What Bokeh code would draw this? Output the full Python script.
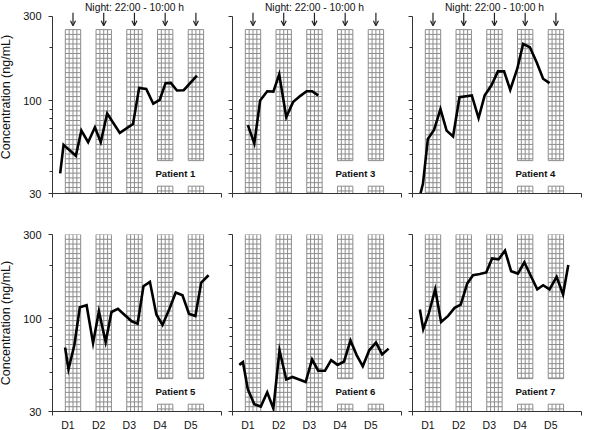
from bokeh.plotting import figure
from bokeh.models import Range1d, FixedTicker, Arrow, OpenHead
from bokeh.layouts import row, column
from bokeh.embed import file_html
from bokeh.resources import INLINE
from bokeh.core.properties import value

# ---------------- data ----------------
DAY_LABELS = ["D1", "D2", "D3", "D4", "D5"]
DAY_LABEL_POS = [0.5, 1.5, 2.5, 3.5, 4.5]          # days since 12:00 on D1
AXIS_DAYS = [0, 5.5]
NIGHT_START = [0.417, 1.417, 2.417, 3.417, 4.417]   # 22:00
NIGHT_END = [0.917, 1.917, 2.917, 3.917, 4.917]     # 10:00
Y_TICKS = [30, 100, 300]
Y_MINOR = [40, 50, 60, 70, 80, 90, 200]
Y_LABEL = "Concentration (ng/mL)"
NIGHT_TEXT = "Night: 22:00 - 10:00 h"

P1_T = [0.25, 0.36, 0.76, 0.94, 1.16, 1.38, 1.57, 1.78, 2.19, 2.62, 2.82, 3.05, 3.28, 3.49, 3.68, 3.85, 4.05, 4.27, 4.70]
P1_C = [39, 56.5, 49, 68, 58.5, 71, 58.5, 85, 66, 74, 118.5, 117, 96.5, 101.5, 126, 126.5, 114.5, 115, 139]

P3_T = [0.50, 0.71, 0.90, 1.13, 1.33, 1.52, 1.75, 1.97, 2.20, 2.41, 2.59, 2.79]
P3_C = [73, 57.5, 100.5, 113.5, 113, 141.5, 81, 98.5, 106.5, 113.5, 113.5, 107.5]

P4_T = [0.26, 0.34, 0.50, 0.70, 0.91, 1.11, 1.32, 1.53, 1.93, 2.15, 2.35, 2.57, 2.78, 2.98, 3.18, 3.41, 3.60, 3.82, 4.04, 4.25, 4.46]
P4_C = [30, 34, 61, 68.5, 90, 68, 63, 105, 107.5, 80, 107.5, 122.5, 147, 147, 115.5, 152, 210, 201, 165.5, 133.5, 126]

P5_T = [0.41, 0.52, 0.71, 0.89, 1.11, 1.32, 1.51, 1.73, 1.92, 2.13, 2.33, 2.58, 2.77, 2.96, 3.17, 3.38, 3.58, 3.80, 4.01, 4.23, 4.44, 4.65, 4.84, 5.08]
P5_C = [69, 52, 71, 116.5, 119.5, 73, 110.5, 74, 109.5, 114, 106, 97, 94, 153, 162, 106, 92.5, 113.5, 141, 136, 107, 104, 160.5, 176.5]

P6_T = [0.22, 0.34, 0.50, 0.71, 0.92, 1.13, 1.33, 1.53, 1.75, 1.95, 2.17, 2.38, 2.59, 2.79, 3.01, 3.21, 3.42, 3.63, 3.84, 4.04, 4.24, 4.45, 4.67, 4.87, 5.08]
P6_C = [55, 57, 40, 33, 32, 38.5, 31.2, 66.5, 45.5, 47, 45.5, 44, 59, 51, 51, 58.5, 55, 57.5, 75.5, 62.5, 54, 66.5, 73.5, 63, 68]

P7_T = [0.24, 0.35, 0.52, 0.74, 0.93, 1.16, 1.37, 1.57, 1.78, 1.97, 2.19, 2.40, 2.59, 2.80, 3.01, 3.21, 3.43, 3.64, 3.84, 4.06, 4.25, 4.46, 4.69, 4.90, 5.07]
P7_C = [113, 87.5, 106, 147, 96, 104, 115.5, 120.5, 158.5, 176.5, 179.5, 183, 219.5, 217, 243.5, 186, 180.5, 209, 176.5, 147, 155, 147, 173, 137.5, 201.5]

# ---------------- styling ----------------
FONT = "Liberation Sans"
AX = "#333333"
GRID = "#8c8c8c"
Y_MIN, Y_MAX = 30, 300
Y_TOP_ROW1 = 369.4       # head-room for arrows / night caption
BAR_TOP_ROW1 = 253
GAP = (33, 46)           # gap left in nights 4-5 for the patient label
ROW_STEP = 37            # grid rows per decade


def bar_pieces(k, top):
    if k >= 3:
        return [(Y_MIN, GAP[0]), (GAP[1], top)]
    return [(Y_MIN, top)]


def make_panel(t, c, name, top_row, first_col, last_col):
    y_top = Y_TOP_ROW1 if top_row else Y_MAX
    p = figure(x_range=Range1d(AXIS_DAYS[0], AXIS_DAYS[1]), y_range=Range1d(Y_MIN, y_top),
               y_axis_type="log", frame_width=169, frame_height=193 if top_row else 177,
               output_backend="svg", toolbar_location=None,
               min_border_left=53 if first_col else 6,
               min_border_right=18 if last_col else 5,
               min_border_top=0 if top_row else 19,
               min_border_bottom=22 if top_row else 19,
               outline_line_color=None)
    p.grid.visible = False

    # night bars with grid hatching
    bar_top = BAR_TOP_ROW1 if top_row else Y_MAX
    L, R, B, T = [], [], [], []
    xs, ys = [], []
    for k, (s, e) in enumerate(zip(NIGHT_START, NIGHT_END)):
        for (b, tp) in bar_pieces(k, bar_top):
            L.append(s); R.append(e); B.append(b); T.append(tp)
            for j in (1, 2, 3):
                xv = s + (e - s) * j / 4
                xs.append([xv, xv]); ys.append([b, tp])
            i = 1
            while True:
                yv = tp * 10 ** (-i / ROW_STEP)
                if yv <= b * 1.005:
                    break
                xs.append([s, e]); ys.append([yv, yv])
                i += 1
    p.quad(left=L, right=R, bottom=B, top=T, fill_color="white", line_color=None)
    p.multi_line(xs, ys, line_color=GRID, line_width=1)
    p.quad(left=L, right=R, bottom=B, top=T, fill_color=None, line_color=GRID, line_width=1)

    # data
    p.line(t, c, line_color="black", line_width=2.6, line_join="miter")

    p.text(x=[4.0], y=[38.9], text=[name], text_font=value(FONT), text_font_style="bold",
           text_font_size="9.6px", text_align="center", text_baseline="middle", text_color="#111111")

    if top_row:
        centers = [(s + e) / 2 for s, e in zip(NIGHT_START, NIGHT_END)]
        for cx in centers:
            p.add_layout(Arrow(end=OpenHead(size=5, line_width=1.2, line_color="#222222"),
                               x_start=cx, y_start=315, x_end=cx, y_end=266,
                               line_width=1.2, line_color="#222222"))
        p.text(x=[centers[2]], y=[339], text=[NIGHT_TEXT], text_font=value(FONT),
               text_font_size="10.3px", text_align="center", text_baseline="middle",
               text_color="#111111")

    # y axis
    ya = p.yaxis[0]
    ya.ticker = FixedTicker(ticks=Y_TICKS, minor_ticks=Y_MINOR)
    ya.bounds = (Y_MIN, Y_MAX)
    ya.axis_line_color = AX
    ya.major_tick_line_color = AX
    ya.minor_tick_line_color = AX
    ya.major_tick_in = 0
    ya.major_tick_out = 4
    ya.minor_tick_in = 0
    ya.minor_tick_out = 3
    if first_col:
        ya.major_label_overrides = {v: str(v) for v in Y_TICKS}
        ya.major_label_text_font = FONT
        ya.major_label_text_font_size = "11px"
        ya.major_label_text_color = "#111111"
        ya.major_label_standoff = 7
        ya.axis_label = Y_LABEL
        ya.axis_label_text_font = FONT
        ya.axis_label_text_font_size = "12.5px"
        ya.axis_label_text_font_style = "normal"
        ya.axis_label_text_color = "#111111"
        ya.axis_label_standoff = 7
    else:
        ya.major_label_overrides = {v: "" for v in Y_TICKS}
        ya.major_label_standoff = 0

    # x axis
    xa = p.xaxis[0]
    xa.ticker = FixedTicker(ticks=DAY_LABEL_POS, minor_ticks=AXIS_DAYS)
    xa.axis_line_color = AX
    xa.major_tick_line_color = None
    xa.major_tick_in = 0
    xa.major_tick_out = 0
    xa.minor_tick_line_color = AX
    xa.minor_tick_in = 0
    xa.minor_tick_out = 4
    if top_row:
        xa.major_label_overrides = {pos: "" for pos in DAY_LABEL_POS}
    else:
        xa.major_label_overrides = dict(zip(DAY_LABEL_POS, DAY_LABELS))
    xa.major_label_text_font = FONT
    xa.major_label_text_font_size = "10.5px"
    xa.major_label_text_color = "#111111"
    xa.major_label_standoff = 3
    return p


p1 = make_panel(P1_T, P1_C, "Patient 1", True, True, False)
p3 = make_panel(P3_T, P3_C, "Patient 3", True, False, False)
p4 = make_panel(P4_T, P4_C, "Patient 4", True, False, True)
p5 = make_panel(P5_T, P5_C, "Patient 5", False, True, False)
p6 = make_panel(P6_T, P6_C, "Patient 6", False, False, False)
p7 = make_panel(P7_T, P7_C, "Patient 7", False, False, True)

layout = column(row(p1, p3, p4), row(p5, p6, p7), margin=(0, 0, 0, -4))
open("out.html", "w").write(file_html(layout, INLINE))
